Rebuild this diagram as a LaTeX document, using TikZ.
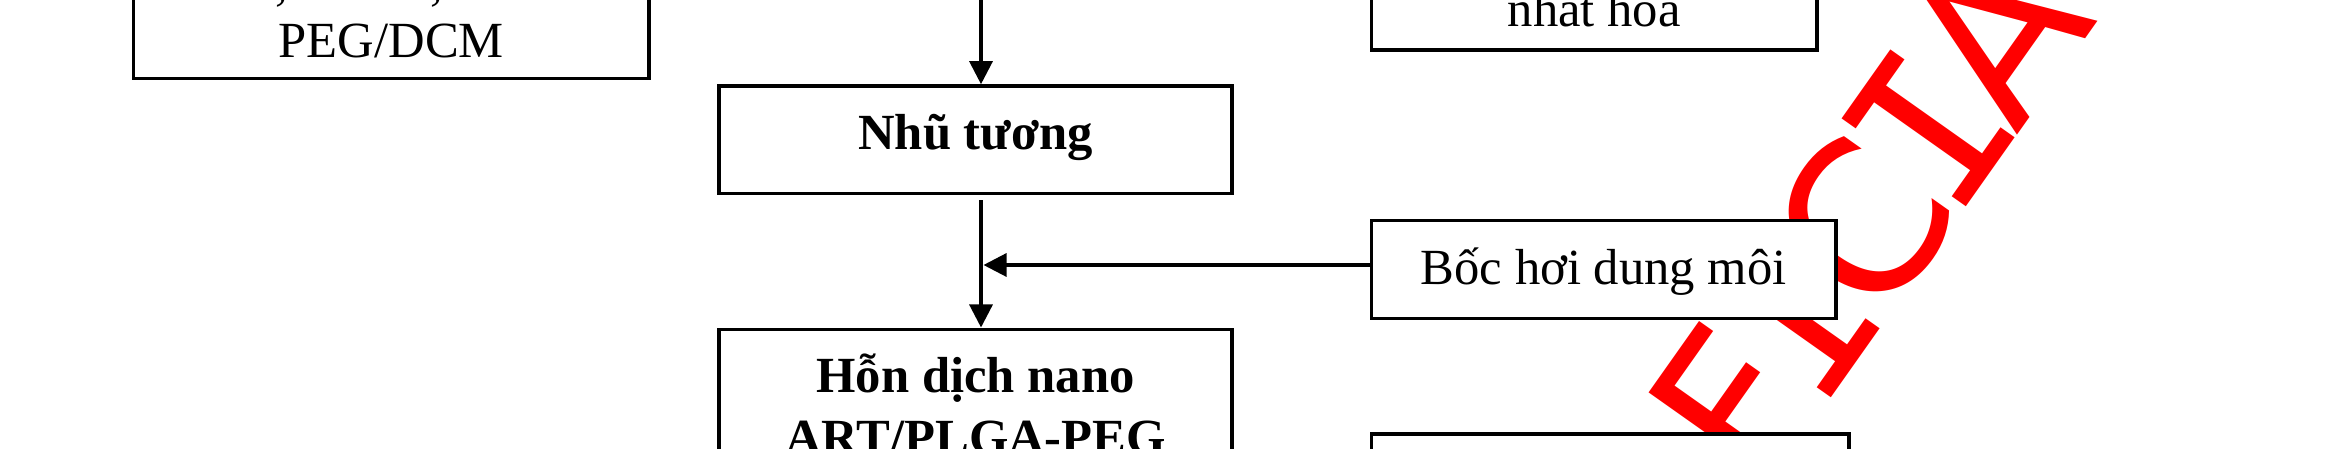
\documentclass[tikz,border=0pt]{standalone}
\usepackage{fontspec}
\setmainfont{Liberation Serif}
\newfontfamily\wmsans{DejaVu Sans}
\newfontfamily\wmmono{DejaVu Sans Mono}
\newcommand\wmI{{\wmmono\kern-0.0905em I\kern-0.0905em}}
\usetikzlibrary{arrows.meta}
\tikzset{
  box/.style={draw, line width=1pt, fill=white, inner sep=0pt, anchor=base,
    font=\fontsize{14.4}{17.5}\selectfont},
  boldbox/.style={box, font=\fontsize{14.4}{17.5}\selectfont\bfseries},
  txt/.style={inner sep=0pt, anchor=base, font=\fontsize{14.4}{17.5}\selectfont},
  arr/.style={line width=0.9pt, -{Triangle[length=0.23cm,width=0.23cm]}},
  wm/.style={text=red, inner sep=0pt, anchor=base, rotate=54.74,
    font=\wmsans\fontsize{59.38}{64}\selectfont}
}
\begin{document}
\begin{tikzpicture}[x=0.01cm, y=-0.01cm]
\useasboundingbox (0,0) rectangle (2334,449);
\fill[white] (0,0) rectangle (2334,449);
\clip (0,0) rectangle (2334,449);

% watermark (behind the boxes)
\node[wm] (wm) at (1930.1,258.5) {F\wmI C\wmI A};

% boxes
\node[box, minimum width=5.153cm, text height=1.5cm, text depth=0.21cm] (src) at (391.3,57.3) {PEG/DCM};
\node[txt] (c1) at (282,0) {,};
\node[txt] (c2) at (437,0) {,};

\node[box, minimum width=4.45cm, text height=1.2cm, text depth=0.233cm] (homo) at (1594.2,26.7) {nhất hóa};

\node[boldbox, minimum width=5.13cm, text height=0.64cm, text depth=0.433cm] (nhu) at (975.5,150) {Nhũ tương};

\node[box, minimum width=4.641cm, text height=0.643cm, text depth=0.333cm] (boc) at (1603.75,285) {Bốc hơi dung môi};

\node[boldbox, minimum width=5.13cm, text height=0.632cm, text depth=2cm] (hon) at (975.5,392.5)
  {\begin{tabular}[t]{@{}c@{}}Hỗn dịch nano\\ART/PLGA-PEG\end{tabular}};

\node[draw, line width=1pt, fill=white, inner sep=0pt, minimum width=4.771cm, minimum height=2cm, anchor=north] (next) at (1610.25,432.3) {};

% connectors
\coordinate (ax) at (981,-10);
\coordinate (j) at (983.5,265);
\draw[arr] (ax) -- (ax |- nhu.north);
\draw[arr, shorten <=0.05cm] (ax |- nhu.south) -- (ax |- hon.north);
\draw[arr] (boc.west |- j) -- (j);
\end{tikzpicture}
\end{document}
